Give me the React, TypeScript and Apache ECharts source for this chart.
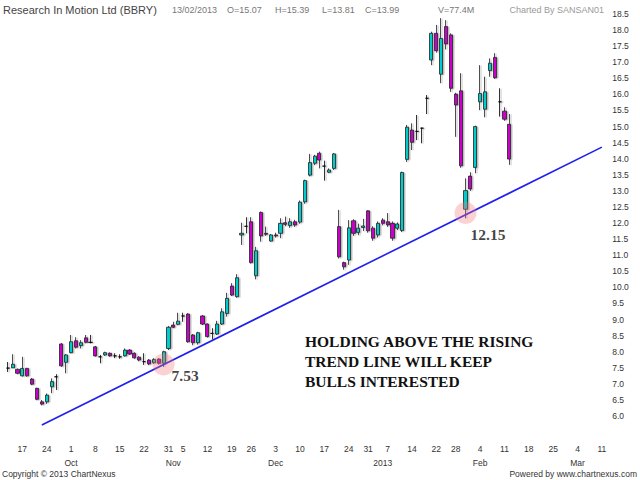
import React, { useEffect, useRef } from "react";
import * as echarts from "echarts";

const HOLIDAYS = ["2012-10-29", "2012-10-30", "2012-11-22", "2012-12-25", "2013-01-01", "2013-01-21"];

function tradingDays(start: string, end: string): string[] {
  const out: string[] = [];
  const d = new Date(start + "T00:00:00Z");
  const e = new Date(end + "T00:00:00Z");
  while (d <= e) {
    const wd = d.getUTCDay();
    const s = d.toISOString().slice(0, 10);
    if (wd !== 0 && wd !== 6 && HOLIDAYS.indexOf(s) < 0) out.push(s);
    d.setUTCDate(d.getUTCDate() + 1);
  }
  return out;
}

const dates = tradingDays("2012-09-12", "2013-03-12");

const opens = [
  7.49, 7.5, 7.45, 7.25, 7.48, 7.15, 6.86, 6.44, 6.44, 6.91,
  7.22, 8.24, 7.67, 7.97, 8.34, 8.19, 8.43, 8.29, 8.15, 7.84,
  7.9, 7.95, 7.87, 7.84, 7.87, 8.05, 7.95, 7.83, 7.69, 7.74,
  7.66, 7.77, 7.64, 8.1, 8.83, 8.85, 9.11, 9.17, 8.52, 8.28,
  9.11, 8.86, 8.57, 8.55, 8.86, 9.19, 10.04, 9.71, 11.63, 11.9,
  12.04, 10.36, 12.33, 11.68, 11.44, 11.63, 11.68, 12.01, 11.92, 12.04,
  12.03, 12.66, 13.49, 13.86, 14.17, 13.77, 13.58, 13.7, 11.89, 10.77,
  10.85, 12.07, 11.71, 11.86, 12.38, 11.84, 11.63, 12.09, 12.04, 11.99,
  11.84, 11.77, 13.98, 14.89, 14.85, 14.95, 15.88, 17.07, 17.9, 16.63,
  18.11, 17.85, 16.01, 16.11, 12.43, 13.46, 13.73, 15.77, 15.54, 16.74,
  17.15, 15.77, 15.48, 15.07,
];
const highs = [
  7.68, 7.92, 7.48, 7.84, 7.5, 7.18, 6.88, 6.5, 6.7, 7.17,
  7.3, 8.27, 7.93, 8.52, 8.45, 8.36, 8.52, 8.52, 8.18, 7.9,
  8.0, 7.98, 7.95, 7.92, 8.1, 8.08, 7.98, 7.86, 7.95, 7.77,
  7.8, 7.8, 8.03, 8.8, 8.93, 9.21, 9.21, 9.2, 8.55, 8.62,
  9.14, 8.88, 8.73, 8.96, 9.35, 9.83, 10.13, 10.41, 12.01, 12.18,
  12.18, 11.26, 12.36, 11.89, 11.66, 11.7, 12.15, 12.2, 12.15, 12.1,
  12.7, 13.35, 14.15, 14.12, 14.22, 13.94, 13.7, 14.18, 12.41, 10.8,
  12.09, 12.12, 11.98, 12.13, 12.4, 11.9, 12.05, 12.15, 12.31, 12.05,
  12.02, 13.6, 15.05, 15.1, 15.36, 14.97, 15.98, 17.95, 18.16, 18.37,
  18.31, 17.9, 16.05, 16.66, 13.39, 13.58, 15.03, 16.91, 16.55, 17.12,
  17.28, 16.19, 15.6, 15.39,
];
const lows = [
  7.37, 7.49, 7.3, 7.23, 7.22, 6.96, 6.49, 6.33, 6.38, 6.71,
  6.81, 7.53, 7.33, 7.95, 8.1, 8.1, 8.26, 8.26, 7.85, 7.64,
  7.87, 7.84, 7.8, 7.78, 7.85, 7.9, 7.78, 7.7, 7.59, 7.58,
  7.62, 7.6, 7.53, 8.05, 8.73, 8.82, 8.93, 8.28, 8.2, 8.22,
  8.83, 8.44, 8.38, 8.52, 8.83, 9.09, 9.73, 9.68, 11.32, 11.68,
  10.74, 10.25, 11.42, 11.6, 11.42, 11.55, 11.53, 11.9, 11.85, 11.88,
  11.98, 12.6, 13.45, 13.8, 13.7, 13.32, 13.55, 13.65, 10.9, 10.55,
  10.7, 11.6, 11.62, 11.75, 11.7, 11.45, 11.55, 11.93, 11.88, 11.45,
  11.78, 11.72, 13.9, 14.27, 14.58, 14.48, 15.39, 16.91, 17.3, 16.35,
  17.4, 16.08, 14.68, 13.72, 12.15, 13.0, 13.55, 15.51, 15.29, 16.55,
  16.48, 15.31, 15.18, 13.81,
];
const closes = [
  7.49, 7.61, 7.33, 7.48, 7.25, 6.99, 6.52, 6.37, 6.65, 7.07,
  7.22, 7.56, 7.9, 8.31, 8.14, 8.28, 8.29, 8.29, 7.87, 7.84,
  7.97, 7.87, 7.87, 7.84, 8.05, 7.93, 7.81, 7.74, 7.69, 7.62,
  7.76, 7.64, 8.0, 8.76, 8.76, 8.95, 9.11, 8.31, 8.28, 8.59,
  8.86, 8.47, 8.57, 8.86, 9.24, 9.66, 9.76, 10.3, 11.68, 11.9,
  10.77, 11.14, 11.6, 11.65, 11.63, 11.6, 11.99, 11.96, 12.04, 11.94,
  12.65, 13.32, 13.88, 14.08, 13.96, 13.77, 13.65, 14.15, 10.95, 10.64,
  11.85, 11.68, 11.84, 11.91, 11.76, 11.53, 11.99, 11.99, 11.94, 11.53,
  11.97, 13.57, 14.98, 14.51, 14.85, 14.95, 15.88, 17.9, 17.36, 17.74,
  17.57, 16.19, 15.67, 13.78, 13.01, 13.06, 15.0, 16.03, 16.08, 16.97,
  16.52, 15.77, 15.23, 13.99,
];

const weekTicks: [string, string][] = [
  ["2012-09-17", "17"], ["2012-09-24", "24"], ["2012-10-01", "1"], ["2012-10-08", "8"],
  ["2012-10-15", "15"], ["2012-10-22", "22"], ["2012-10-31", "31"], ["2012-11-05", "5"],
  ["2012-11-12", "12"], ["2012-11-19", "19"], ["2012-11-26", "26"], ["2012-12-03", "3"],
  ["2012-12-10", "10"], ["2012-12-17", "17"], ["2012-12-24", "24"], ["2012-12-31", "31"],
  ["2013-01-07", "7"], ["2013-01-14", "14"], ["2013-01-22", "22"], ["2013-01-28", "28"],
  ["2013-02-04", "4"], ["2013-02-11", "11"], ["2013-02-18", "18"], ["2013-02-25", "25"],
  ["2013-03-04", "4"], ["2013-03-11", "11"],
];
const monthTicks: [string, string][] = [
  ["2012-10-01", "Oct"], ["2012-11-01", "Nov"], ["2012-12-03", "Dec"],
  ["2013-01-04", "2013"], ["2013-02-04", "Feb"], ["2013-03-04", "Mar"],
];

const trendLine: [string, number][] = [["2012-09-21", 5.72], ["2013-03-11", 14.36]];
const highlightDates = ["2012-10-26", "2013-01-30"];
const highlightValues = [7.6, 12.31];
const highlightLabels = ["7.53", "12.15"];
const highlightLabelShift: [number, number][] = [[-3, 11], [-6, 21]];

const headerStats = ["13/02/2013", "O=15.07", "H=15.39", "L=13.81", "C=13.99", "V=77.4M"];
const headerStatX = [172, 227, 275, 322, 365, 438];
const noteLines = ["HOLDING ABOVE THE RISING", "TREND LINE WILL KEEP", "BULLS INTERESTED"];

const UP = "#00CCCC";
const DOWN = "#CC00CC";

export default function App() {
  const ref = useRef<HTMLDivElement>(null);
  useEffect(() => {
    if (!ref.current) return;
    const chart = echarts.init(ref.current, undefined, { renderer: "svg" });
    const weekMap = new Map(weekTicks);
    const monthMap = new Map(monthTicks);
    const candleData = opens.map((o, i) => {
      const c = closes[i];
      const item: any = { value: [o, c, lows[i], highs[i]] };
      if (o === c) {
        item.itemStyle = { color: "#000", color0: "#000", borderColor: "#000", borderColor0: "#000" };
      }
      return item;
    });
    const sans = "'Liberation Sans', Arial, sans-serif";
    const serif = "'Liberation Serif', 'Times New Roman', serif";
    const graphics: any[] = [
      {
        type: "text", x: 3, y: 10,
        style: { text: "Research In Motion Ltd (BBRY)", fill: "#444", font: `11px ${sans}`, textVerticalAlign: "middle" },
      },
      ...headerStats.map((t, i) => ({
        type: "text", x: headerStatX[i], y: 10,
        style: { text: t, fill: "#777", font: `9px ${sans}`, textVerticalAlign: "middle" },
      })),
      {
        type: "text", x: 604, y: 10,
        style: { text: "Charted By SANSAN01", fill: "#999", font: `9px ${sans}`, textAlign: "right", textVerticalAlign: "middle" },
      },
      {
        type: "text", x: 2, y: 474,
        style: { text: "Copyright © 2013 ChartNexus", fill: "#333", font: `8.5px ${sans}`, textVerticalAlign: "middle" },
      },
      {
        type: "text", x: 637, y: 474,
        style: { text: "Powered by www.chartnexus.com", fill: "#333", font: `8.5px ${sans}`, textAlign: "right", textVerticalAlign: "middle" },
      },
      ...noteLines.map((t, i) => ({
        type: "text", x: 305, y: 341 + i * 20.3,
        style: { text: t, fill: "#111", font: `bold 15.5px ${serif}`, textVerticalAlign: "middle" },
      })),
    ];

    chart.setOption({
      animation: false,
      backgroundColor: "#fff",
      grid: { left: 5.3, right: 30.8, top: 14, bottom: 47.9 },
      xAxis: [
        {
          type: "category",
          data: dates,
          boundaryGap: true,
          axisLine: { show: false },
          axisTick: { show: false },
          splitLine: { show: false },
          axisLabel: {
            interval: (_i: number, v: string) => weekMap.has(v),
            formatter: (v: string) => weekMap.get(v) || "",
            margin: 12,
            fontSize: 8.5,
            color: "#333",
            fontFamily: sans,
          },
        },
        {
          type: "category",
          data: dates,
          boundaryGap: true,
          position: "bottom",
          axisLine: { show: false },
          axisTick: { show: false },
          splitLine: { show: false },
          axisLabel: {
            interval: (_i: number, v: string) => monthMap.has(v),
            formatter: (v: string) => monthMap.get(v) || "",
            margin: 26,
            fontSize: 8.5,
            color: "#333",
            fontFamily: sans,
          },
        },
      ],
      yAxis: {
        type: "value",
        position: "right",
        min: 5.5,
        max: 18.5,
        interval: 0.5,
        axisLine: { show: false },
        axisTick: { show: false },
        splitLine: { show: false },
        axisLabel: {
          formatter: (v: number) => (v < 5.9 ? "" : v.toFixed(1)),
          margin: 3,
          fontSize: 8.5,
          color: "#333",
          fontFamily: sans,
        },
      },
      series: [
        {
          type: "candlestick",
          xAxisIndex: 0,
          data: candleData,
          barWidth: 3.6,
          itemStyle: {
            color: UP,
            color0: DOWN,
            borderColor: "#222",
            borderColor0: "#222",
            borderWidth: 0.8,
            shadowColor: "rgba(0,0,0,0.28)",
            shadowOffsetX: 1.5,
            shadowOffsetY: 0.5,
            shadowBlur: 0.5,
          },
          z: 2,
        },
        {
          type: "line",
          xAxisIndex: 0,
          data: trendLine,
          symbol: "none",
          lineStyle: { color: "#2020EE", width: 1.6 },
          z: 3,
          silent: true,
        },
        {
          type: "scatter",
          xAxisIndex: 0,
          data: highlightDates.map((d, i) => ({
            value: [d, highlightValues[i]],
            label: { offset: highlightLabelShift[i] },
          })),
          symbolSize: 22,
          itemStyle: { color: "rgba(245,120,120,0.42)" },
          label: {
            show: true,
            position: "right",
            distance: 0,
            formatter: (p: any) => highlightLabels[p.dataIndex],
            fontFamily: serif,
            fontWeight: "bold",
            fontSize: 15.5,
            color: "#111",
          },
          z: 4,
          silent: true,
        },
      ],
      graphic: graphics,
    });
    return () => chart.dispose();
  }, []);
  return <div ref={ref} style={{ position: "fixed", left: 0, top: 0, width: 640, height: 480 }} />;
}
